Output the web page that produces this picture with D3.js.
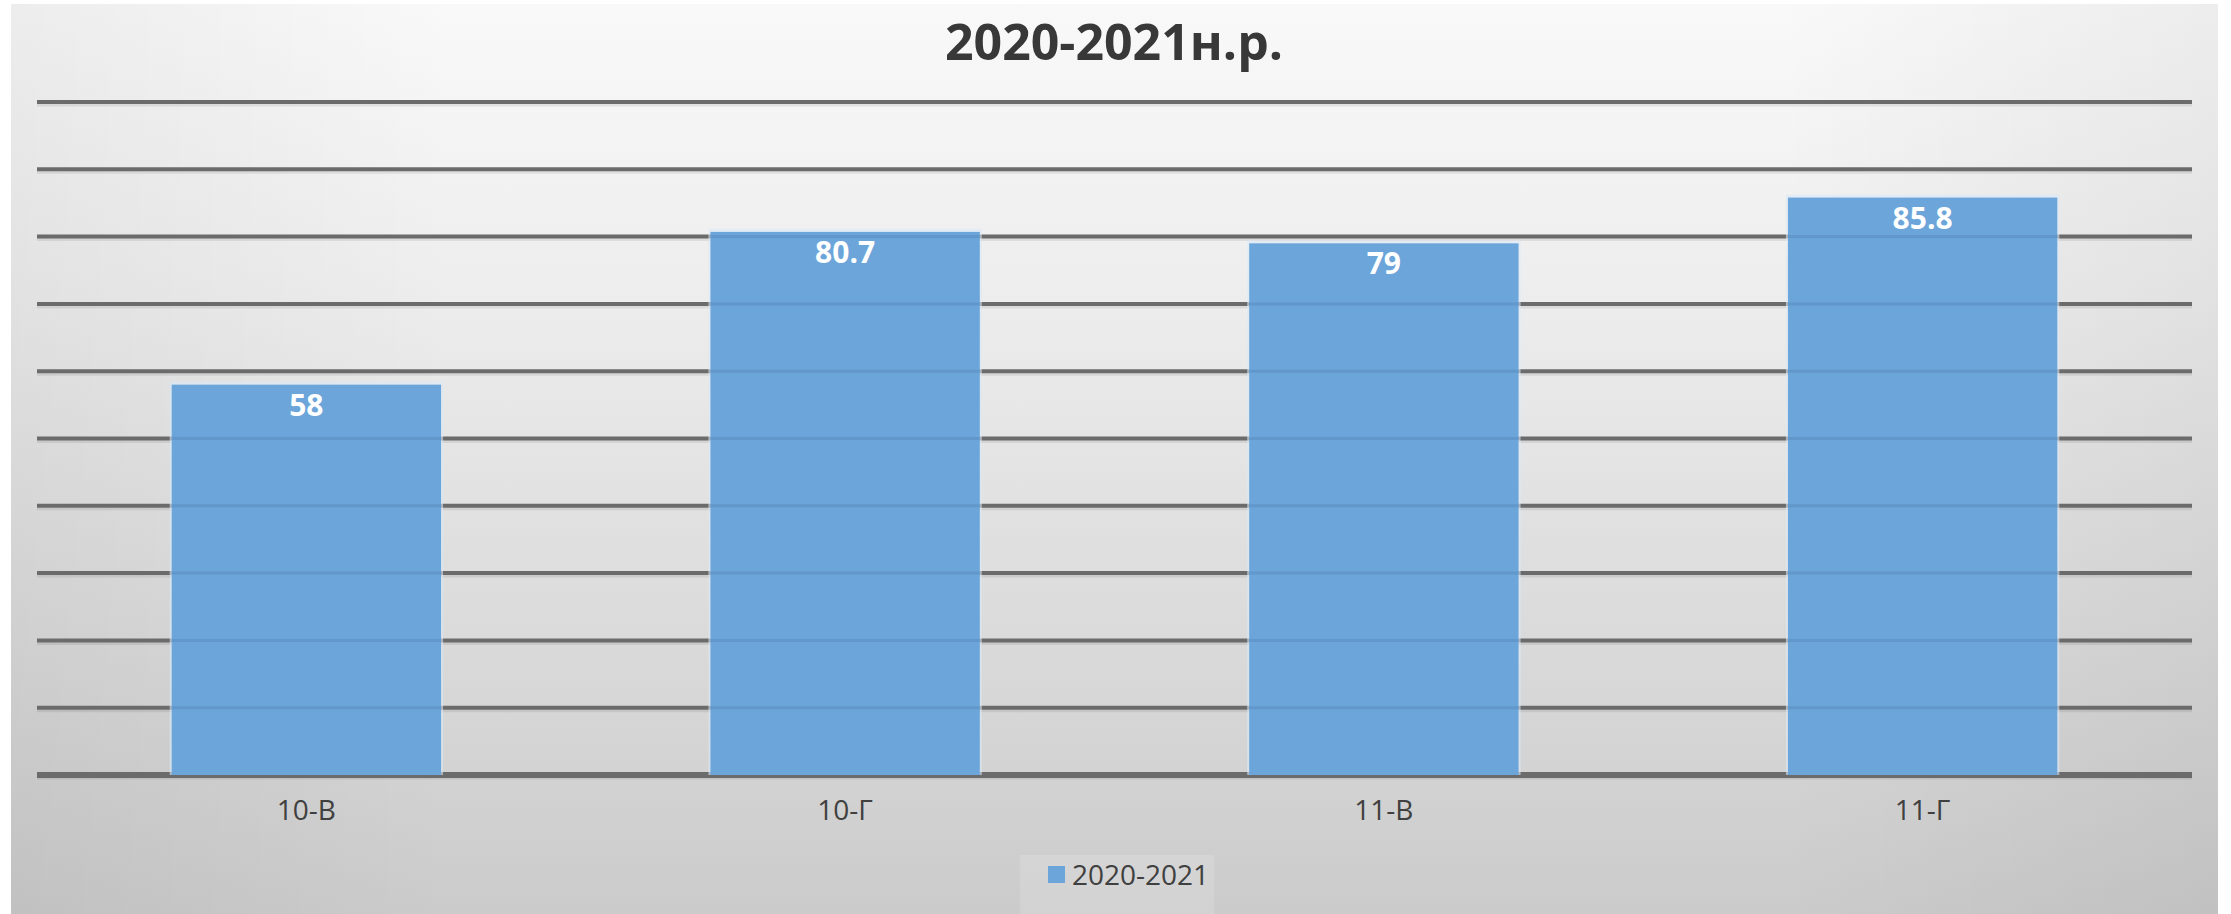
<!DOCTYPE html>
<html>
<head>
<meta charset="utf-8">
<script src="https://cdn.jsdelivr.net/npm/d3@7"></script>
<style>
    body { margin: 0; background: white; }
    svg { display: block; }
</style>
</head>
<body>
<svg id="chart"></svg>
<script>
// data
const categories = ["10-В", "10-Г", "11-В", "11-Г"];
const values = [58, 80.7, 79, 85.8];
const seriesName = "2020-2021";
const title = "2020-2021н.р.";
const yTicks = d3.range(0, 101, 10);

const width = 2231, height = 914;
const svg = d3.select("#chart").attr("width", width).attr("height", height);

const defs = svg.append("defs");
const bg = defs.append("linearGradient")
    .attr("id", "bg")
    .attr("x1", 0).attr("y1", 0).attr("x2", 0).attr("y2", 1);
bg.append("stop").attr("offset", "0%").attr("stop-color", "#f9f9f9");
bg.append("stop").attr("offset", "30%").attr("stop-color", "#eeeeee");
bg.append("stop").attr("offset", "100%").attr("stop-color", "#cbcbcb");

// slight darkening toward the left/right edges
const side = defs.append("linearGradient")
    .attr("id", "side")
    .attr("x1", 0).attr("y1", 0).attr("x2", 1).attr("y2", 0);
side.append("stop").attr("offset", "0%").attr("stop-color", "#000").attr("stop-opacity", 0.05);
side.append("stop").attr("offset", "20%").attr("stop-color", "#000").attr("stop-opacity", 0);
side.append("stop").attr("offset", "80%").attr("stop-color", "#000").attr("stop-opacity", 0);
side.append("stop").attr("offset", "100%").attr("stop-color", "#000").attr("stop-opacity", 0.05);

// chart area
svg.append("rect")
    .attr("x", 11).attr("y", 4)
    .attr("width", 2207).attr("height", 910)
    .attr("fill", "url(#bg)");
svg.append("rect")
    .attr("x", 11).attr("y", 4)
    .attr("width", 2207).attr("height", 910)
    .attr("fill", "url(#side)");

const x = d3.scaleBand()
    .domain(categories)
    .range([37, 2192])
    .paddingInner(0.5)
    .paddingOuter(0.25);

const y = d3.scaleLinear()
    .domain([0, 100])
    .range([775, 102]);

// gridlines with a soft shadow underneath
const grid = svg.append("g");
grid.selectAll("line.shadow")
    .data(yTicks)
    .enter().append("line")
    .attr("class", "shadow")
    .attr("x1", 37).attr("x2", 2192)
    .attr("y1", d => y(d) + 3).attr("y2", d => y(d) + 3)
    .attr("stroke", "rgba(0,0,0,0.08)")
    .attr("stroke-width", 3);
grid.selectAll("line.main")
    .data(yTicks)
    .enter().append("line")
    .attr("class", "main")
    .attr("x1", 37).attr("x2", 2192)
    .attr("y1", d => y(d)).attr("y2", d => y(d))
    .attr("stroke", "#6b6b6b")
    .attr("stroke-width", d => d === 0 ? 6 : 4);

// bars
const bars = svg.append("g");
bars.selectAll("rect.glow")
    .data(values)
    .enter().append("rect")
    .attr("class", "glow")
    .attr("x", (d, i) => x(categories[i]) - 2)
    .attr("y", d => y(d) - 3)
    .attr("width", x.bandwidth() + 4)
    .attr("height", d => y(0) - y(d) + 3)
    .attr("fill", "#dbe9f6")
    .attr("opacity", 0.6);
bars.selectAll("rect.bar")
    .data(values)
    .enter().append("rect")
    .attr("class", "bar")
    .attr("x", (d, i) => x(categories[i]))
    .attr("y", d => y(d))
    .attr("width", x.bandwidth())
    .attr("height", d => y(0) - y(d))
    .attr("fill", "#6ca5da");

// gridlines faintly showing through the bars
bars.selectAll("g.through")
    .data(values)
    .enter().append("g")
    .attr("class", "through")
    .each(function(v, i) {
        d3.select(this).selectAll("line")
            .data(yTicks.filter(t => t > 0 && y(t) > y(v) + 2))
            .enter().append("line")
            .attr("x1", x(categories[i]))
            .attr("x2", x(categories[i]) + x.bandwidth())
            .attr("y1", t => y(t)).attr("y2", t => y(t))
            .attr("stroke", "#3f6f9c")
            .attr("stroke-opacity", 0.25)
            .attr("stroke-width", 3);
    });

// value labels
svg.append("g").selectAll("text")
    .data(values)
    .enter().append("text")
    .attr("x", (d, i) => x(categories[i]) + x.bandwidth() / 2)
    .attr("y", d => y(d) + 31)
    .attr("text-anchor", "middle")
    .attr("font-family", "Open Sans")
    .attr("font-weight", "bold")
    .attr("font-size", "30px")
    .attr("fill", "white")
    .text(d => d);

// category labels
svg.append("g").selectAll("text")
    .data(categories)
    .enter().append("text")
    .attr("x", d => x(d) + x.bandwidth() / 2)
    .attr("y", 820)
    .attr("text-anchor", "middle")
    .attr("font-family", "Open Sans")
    .attr("font-size", "28px")
    .attr("fill", "#404040")
    .text(d => d);

// title
svg.append("text")
    .attr("x", 1114)
    .attr("y", 60)
    .attr("text-anchor", "middle")
    .attr("font-family", "Open Sans")
    .attr("font-weight", "bold")
    .attr("font-size", "50px")
    .attr("fill", "#383838")
    .text(title);

// legend
const legend = svg.append("g");
legend.append("rect")
    .attr("x", 1020).attr("y", 855)
    .attr("width", 194).attr("height", 59)
    .attr("fill", "rgba(255,255,255,0.15)");
legend.append("rect")
    .attr("x", 1048).attr("y", 866)
    .attr("width", 17).attr("height", 17)
    .attr("fill", "#6ca5da");
legend.append("text")
    .attr("x", 1072)
    .attr("y", 885)
    .attr("font-family", "Open Sans")
    .attr("font-size", "28px")
    .attr("fill", "#404040")
    .text(seriesName);
</script>
</body>
</html>
